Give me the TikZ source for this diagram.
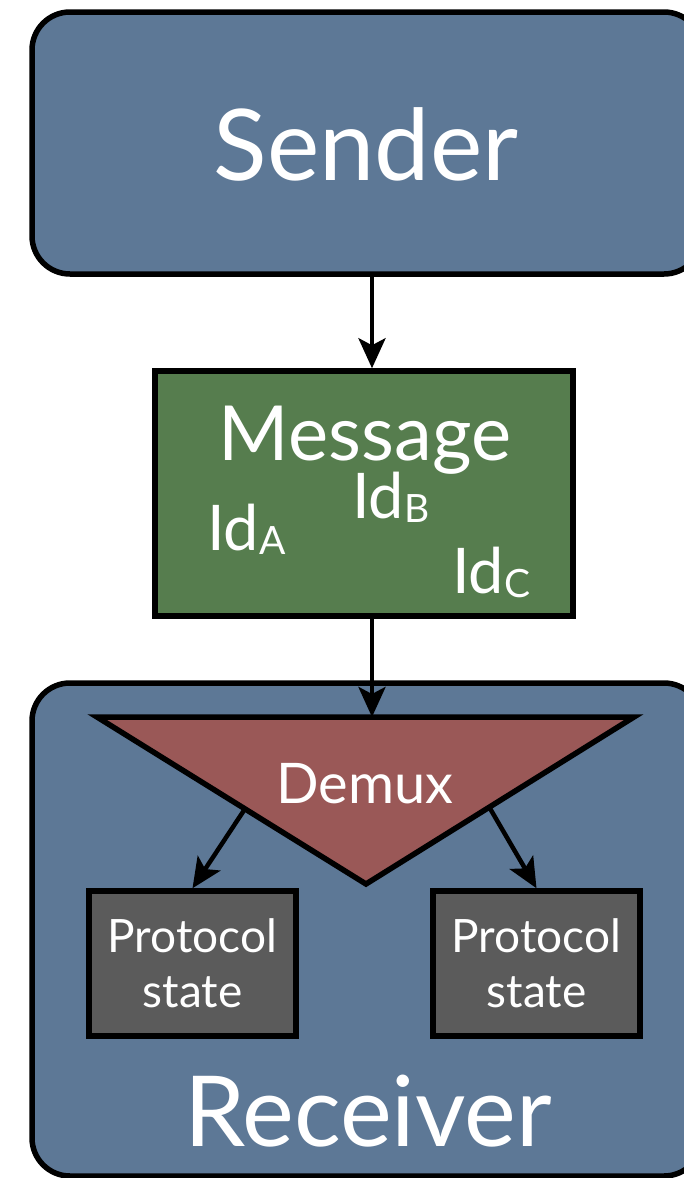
\documentclass[tikz,border=0pt]{standalone}
\usepackage{fontspec}
\setmainfont{Lato}
\usetikzlibrary{arrows.meta,calc}

\definecolor{boxblue}{HTML}{5D7896}
\definecolor{msggreen}{HTML}{567D4E}
\definecolor{demuxred}{HTML}{9A5857}
\definecolor{stategray}{HTML}{5B5B5B}

\newcommand{\fsz}[1]{\fontsize{#1}{#1}\selectfont}
\newcommand{\idlabel}[1]{\fsz{63}Id\raisebox{-4pt}{\fsz{39}#1}}

\tikzset{
  outline/.style={draw=black, line width=5.5pt},
  party/.style={outline, fill=boxblue, rounded corners=38pt},
  label/.style={text=white, inner sep=0pt, anchor=base},
  flow/.style={line width=4.5pt, -{Stealth[length=30pt,width=27pt,inset=7pt]}},
  statebox/.style={outline, fill=stategray, minimum width=207pt, minimum height=145pt,
    inner sep=0pt, text=white, align=center, font=\fontsize{46}{55}\selectfont},
}

\begin{document}
\begin{tikzpicture}[x=1pt, y=-1pt]
\useasboundingbox (0,0) rectangle (684,1178);
\clip (0,0) rectangle (684,1178);

% sender
\draw[party] (32,12) rectangle (702,274);
\coordinate (senderbottom) at (372,274);
\node[label, font=\fsz{99}] (sender) at (366,180) {Sender};

% message with its identifiers
\node[outline, fill=msggreen, minimum width=418pt, minimum height=245pt, inner sep=0pt]
  (message) at (364,493.5) {};
\node[label, font=\fsz{76}] (msgtitle) at (365,460) {Message};
\node[label, anchor=base west] (ida) at (207,550) {\idlabel{A}};
\node[label, anchor=base west] (idb) at (352,518) {\idlabel{B}};
\node[label, anchor=base west] (idc) at (452,593) {\idlabel{C}};

% receiver
\draw[party] (32,683) rectangle (702,1176);
\node[label, font=\fsz{98}] (receiver) at (368,1146) {Receiver};

% demultiplexer
\coordinate (tl) at (97,717);
\coordinate (tr) at (634,717);
\coordinate (tb) at (366,884);
\draw[outline, fill=demuxred, line join=miter] (tl) -- (tr) -- (tb) -- cycle;
\coordinate (demuxtop) at (372,717);
\coordinate (demuxleft) at ($(tl)!0.55!(tb)$);
\coordinate (demuxright) at ($(tr)!0.54!(tb)$);
\node[label, font=\fsz{56}] (demux) at (365,803) {Demux};

% protocol states
\node[statebox] (stateA) at (192.5,963.5) {Protocol\\state};
\node[statebox] (stateB) at (536.5,963.5) {Protocol\\state};

% connectors
\draw[flow] (senderbottom) -- (message.north -| senderbottom);
\draw[flow] (message.south -| demuxtop) -- (demuxtop);
\draw[flow] (demuxleft) -- (stateA.north);
\draw[flow] (demuxright) -- (stateB.north);
\end{tikzpicture}
\end{document}
